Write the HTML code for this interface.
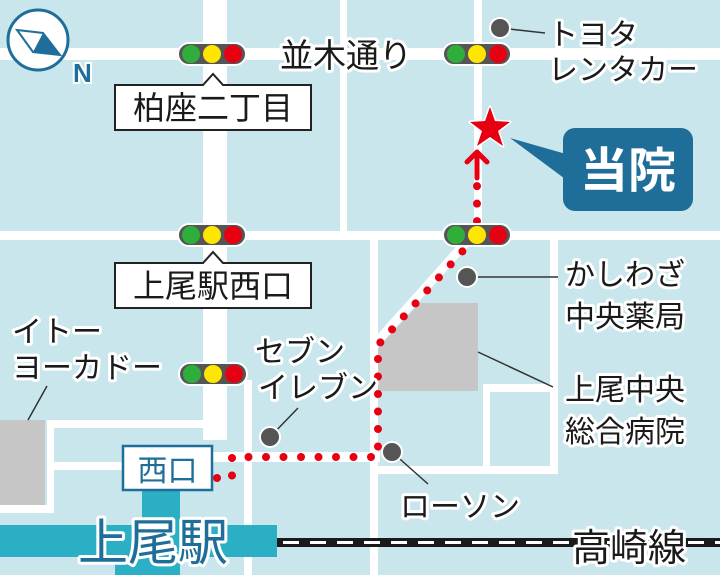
<!DOCTYPE html>
<html><head><meta charset="utf-8"><style>
html,body{margin:0;padding:0;background:#c9e6ec}
svg{display:block}
.t{font-family:"Liberation Sans","Noto Sans CJK JP",sans-serif;fill:#1a1a1a;stroke:#fff;stroke-width:6px;paint-order:stroke;stroke-linejoin:round}
</style></head><body>
<svg width="720" height="575" viewBox="0 0 720 575" xmlns="http://www.w3.org/2000/svg">
<rect width="720" height="575" fill="#c9e6ec"/>
<g fill="#fff">
<rect x="0" y="48" width="720" height="12"/>
<rect x="203" y="0" width="24" height="440"/>
<rect x="340" y="0" width="7" height="232"/>
<rect x="474" y="0" width="8" height="240"/>
<rect x="0" y="231" width="720" height="9"/>
<rect x="370" y="238" width="8" height="337"/>
<rect x="550" y="238" width="8" height="235"/>
<rect x="370" y="466" width="188" height="8"/>
<rect x="483" y="384" width="75" height="8"/>
<rect x="483" y="384" width="7" height="90"/>
<rect x="244" y="380" width="8" height="195"/>
<rect x="47" y="420" width="160" height="8"/>
<rect x="47" y="420" width="7" height="92"/>
<rect x="0" y="505" width="54" height="8"/>
<rect x="54" y="462" width="70" height="8"/>
<rect x="210" y="452" width="170" height="10"/>
</g>
<line x1="374" y1="345" x2="470" y2="238" stroke="#fff" stroke-width="9"/>
<polygon points="378,348 420,303 478,303 478,391 378,391" fill="#c6c6c6"/>
<rect x="0" y="420" width="45" height="85" fill="#c6c6c6"/>
<!-- station -->
<rect x="142" y="490" width="38" height="85" fill="#2aafc5"/>
<rect x="115" y="553" width="65" height="22" fill="#2aafc5"/>
<rect x="0" y="525" width="277" height="32" fill="#2aafc5"/>
<rect x="277" y="538" width="443" height="9" fill="#1a1a1a"/>
<line x1="283" y1="542.5" x2="720" y2="542.5" stroke="#fff" stroke-width="3" stroke-dasharray="16 11"/>
<text x="572" y="561" class="t" font-size="38">高崎線</text>
<text x="78" y="560" font-family="Liberation Sans,Noto Sans CJK JP,sans-serif" font-size="50" fill="#1f6e9a" stroke="#fff" stroke-width="6" paint-order="stroke" stroke-linejoin="round">上尾駅</text>
<rect x="123" y="446" width="89" height="44" fill="#fff" stroke="#1f6e9a" stroke-width="2.5"/>
<text x="167.5" y="481" text-anchor="middle" font-family="Liberation Sans,Noto Sans CJK JP,sans-serif" font-size="30" fill="#1f6e9a">西口</text>
<!-- red route -->
<path d="M217 478 L232 478 L232 457 L378 457 L378 345 L470 243 L477 230 L477 185" fill="none" stroke="#e60012" stroke-width="8" stroke-linecap="round" stroke-dasharray="0 17.5"/>
<path d="M477 178 V152 M467 162 L477 152 L487 162" fill="none" stroke="#e60012" stroke-width="5" stroke-linecap="round" stroke-linejoin="round"/>
<polygon points="490,107 495,121 510,122 498,131 503,146 490,137 477,146 482,131 470,122 485,121" fill="#e60012" stroke="#fff" stroke-width="3" stroke-linejoin="round" paint-order="stroke"/>
<!-- callout -->
<polygon points="510,138 580,158 580,190" fill="#1f6e9a"/>
<rect x="563" y="128" width="130" height="83" rx="12" fill="#1f6e9a"/>
<text x="628" y="187" text-anchor="middle" font-family="Liberation Sans,Noto Sans CJK JP,sans-serif" font-size="48" font-weight="bold" fill="#fff">当院</text>
<!-- traffic lights -->
<g id="tl">
<rect x="178" y="43" width="68" height="22" rx="11" fill="#555" stroke="#fff" stroke-width="2"/>
<circle cx="191" cy="54" r="9" fill="#2fae3b"/><circle cx="212" cy="54" r="9" fill="#ffe600"/><circle cx="233" cy="54" r="9" fill="#e60012"/>
</g>
<use href="#tl" x="265" y="0"/>
<use href="#tl" x="0" y="181"/>
<use href="#tl" x="265" y="181"/>
<use href="#tl" x="1" y="320"/>
<!-- label boxes -->
<path d="M115 85 H203 L213 74 L223 85 H311 V130 H115 Z" fill="#fff" stroke="#222" stroke-width="2"/>
<text x="213" y="119" text-anchor="middle" font-family="Liberation Sans,Noto Sans CJK JP,sans-serif" font-size="32" fill="#1a1a1a">柏座二丁目</text>
<path d="M115 263 H203 L213 252 L223 263 H311 V308 H115 Z" fill="#fff" stroke="#222" stroke-width="2"/>
<text x="213" y="297" text-anchor="middle" font-family="Liberation Sans,Noto Sans CJK JP,sans-serif" font-size="32" fill="#1a1a1a">上尾駅西口</text>
<!-- compass -->
<circle cx="38" cy="40" r="30" fill="#fff" stroke="#1f6e9a" stroke-width="3"/>
<polygon points="17,30 43,33 60,55 33,52" fill="#fff" stroke="#1f6e9a" stroke-width="2"/>
<polygon points="43,33 60,55 33,52" fill="#1f6e9a"/>
<text x="73" y="82" font-family="Liberation Sans,sans-serif" font-size="26" font-weight="bold" fill="#1f6e9a" stroke="#fff" stroke-width="4" paint-order="stroke">N</text>
<!-- POI dots & leaders -->
<g stroke="#333" stroke-width="1.5">
<line x1="500" y1="28" x2="545" y2="33"/>
<line x1="467" y1="277" x2="558" y2="277"/>
<line x1="478" y1="352" x2="553" y2="387"/>
<line x1="270" y1="437" x2="298" y2="408"/>
<line x1="392" y1="452" x2="428" y2="484"/>
<line x1="28" y1="420" x2="47" y2="386"/>
</g>
<g fill="#555" stroke="#fff" stroke-width="2">
<circle cx="500" cy="28" r="10"/><circle cx="467" cy="277" r="10"/><circle cx="270" cy="437" r="10"/><circle cx="392" cy="452" r="10"/>
</g>
<!-- labels -->
<g class="t" font-size="30">
<text x="280" y="67" font-size="33">並木通り</text>
<text x="548" y="45">トヨタ</text>
<text x="548" y="80">レンタカー</text>
<text x="565" y="285">かしわざ</text>
<text x="565" y="327">中央薬局</text>
<text x="565" y="400">上尾中央</text>
<text x="565" y="442">総合病院</text>
<text x="400" y="517">ローソン</text>
<text x="12" y="342">イトー</text>
<text x="12" y="378">ヨーカドー</text>
<text x="255" y="362">セブン</text>
<text x="258" y="398">イレブン</text>
</g>
</svg>
</body></html>
